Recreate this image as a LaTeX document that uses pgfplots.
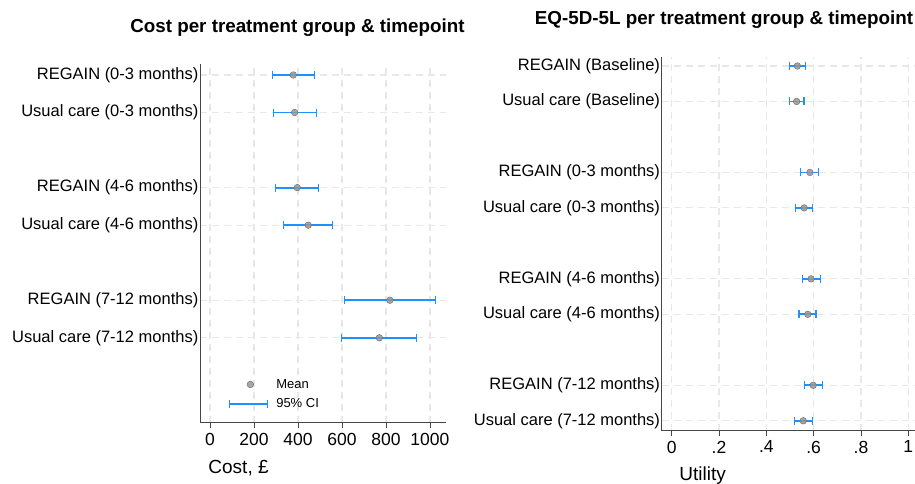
\documentclass[border=0pt]{standalone}
\usepackage{fontspec}
\setmainfont{Liberation Sans}
\usepackage{pgfplots}
\pgfplotsset{compat=1.18}
\definecolor{ciblue}{RGB}{30,144,255}
\definecolor{meangray}{RGB}{150,150,150}
\definecolor{meanedge}{RGB}{115,115,115}
\definecolor{gridgray}{RGB}{232,232,232}
\definecolor{axisgray}{RGB}{70,70,70}

\pgfplotsset{
  stata/.style={
    scale only axis,
    axis x line*=bottom, axis y line*=left,
    axis line style={axisgray, line width=1pt},
    grid=major,
    major grid style={gridgray, line width=1.2pt, dash pattern=on 7pt off 5pt},
    tick align=outside,
    major tick length=5pt,
    xtick style={axisgray, line width=0.8pt},
    ytick style={draw=none},
    /pgf/number format/assume math mode=true,
    /pgf/number format/1000 sep={},
    yticklabel style={font=\fontsize{16.5}{18}\selectfont, inner xsep=0pt, xshift=3.5pt},
    xticklabel style={font=\fontsize{17.5}{19}\selectfont, inner ysep=0pt, yshift=-5pt},
    label style={font=\fontsize{19}{21}\selectfont},
    title style={font=\bfseries\fontsize{18.8}{21}\selectfont, anchor=base},
  },
  meanplot/.style={only marks, mark=*, mark size=3.3pt,
    mark options={fill=meangray, draw=meanedge, line width=0.5pt, fill opacity=0.85},
    legend image code/.code={\draw[mark repeat=2, mark phase=2, ##1] plot coordinates {(0pt,0pt)(21pt,0pt)(42pt,0pt)};}},
  ci/.style={draw=ciblue, line width=1.8pt, mark=|, mark size=4pt,
    mark options={draw=ciblue, line width=1.1pt},
    legend image code/.code={\draw[ciblue, line width=1.8pt] (0pt,0pt) -- (38pt,0pt); \draw[ciblue, line width=1.1pt] (0pt,-4pt) -- (0pt,4pt) (38pt,-4pt) -- (38pt,4pt);}},
}

\begin{document}
\begin{tikzpicture}
\path[use as bounding box] (0pt,0pt) rectangle (915pt,484pt);

% Left: cost
\begin{axis}[stata,
  at={(200pt,61pt)}, anchor=south west,
  width=246pt, height=359pt,
  xmin=-45, xmax=1073, ymin=-1.27, ymax=8.293,
  xtick={0,200,400,600,800,1000},
  ytick={8,7,5,4,2,1},
  yticklabels={REGAIN (0-3 months), Usual care (0-3 months), REGAIN (4-6 months), Usual care (4-6 months), REGAIN (7-12 months), Usual care (7-12 months)},
  xlabel={Cost, £},
  xlabel style={at={(axis description cs:0.02,-0.142)}, anchor=base west},
  title={Cost per treatment group \& timepoint},
  title style={at={(axis description cs:0.396,1.071)}},
  reverse legend,
  legend cell align=left,
  legend style={draw=none, fill=none, at={(axis description cs:0.115,0.128)}, anchor=north west,
    font=\fontsize{13}{15}\selectfont, row sep=5pt, column sep=6pt, inner sep=0pt},
]
% 95% CI (lower, upper)
\addplot[ci] coordinates {(285,8) (476,8)};
\addlegendentry{95\% CI}
\addplot[ci, forget plot] coordinates {(288,7) (483,7)};
\addplot[ci, forget plot] coordinates {(298,5) (495,5)};
\addplot[ci, forget plot] coordinates {(335,4) (558,4)};
\addplot[ci, forget plot] coordinates {(611,2) (1026,2)};
\addplot[ci, forget plot] coordinates {(598,1) (940,1)};
% means
\addplot[meanplot] coordinates {(379,8) (385,7) (397,5) (447,4) (818,2) (770,1)};
\addlegendentry{Mean}
\end{axis}

% Right: EQ-5D-5L
\begin{axis}[stata,
  at={(661.7pt,53.3pt)}, anchor=south west,
  width=257.3pt, height=374pt,
  xmin=-0.042, xmax=1.045, ymin=0.72, ymax=11.262,
  xtick={0,0.2,0.4,0.6,0.8,1},
  xticklabels={0,.2,.4,.6,.8,1},
  ytick={11,10,8,7,5,4,2,1},
  yticklabels={REGAIN (Baseline), Usual care (Baseline), REGAIN (0-3 months), Usual care (0-3 months), REGAIN (4-6 months), Usual care (4-6 months), REGAIN (7-12 months), Usual care (7-12 months)},
  xlabel={Utility},
  xlabel style={at={(axis description cs:0.055,-0.132)}, anchor=base west},
  title={EQ-5D-5L per treatment group \& timepoint},
  title style={at={(axis description cs:0.242,1.071)}},
]
\addplot[ci] coordinates {(0.497,11) (0.565,11)};
\addplot[ci] coordinates {(0.496,10) (0.559,10)};
\addplot[ci] coordinates {(0.545,8) (0.622,8)};
\addplot[ci] coordinates {(0.524,7) (0.594,7)};
\addplot[ci] coordinates {(0.552,5) (0.627,5)};
\addplot[ci] coordinates {(0.538,4) (0.610,4)};
\addplot[ci] coordinates {(0.560,2) (0.636,2)};
\addplot[ci] coordinates {(0.518,1) (0.594,1)};
\addplot[meanplot] coordinates {(0.531,11) (0.528,10) (0.584,8) (0.560,7) (0.589,5) (0.575,4) (0.598,2) (0.556,1)};
\end{axis}
\end{tikzpicture}
\end{document}
